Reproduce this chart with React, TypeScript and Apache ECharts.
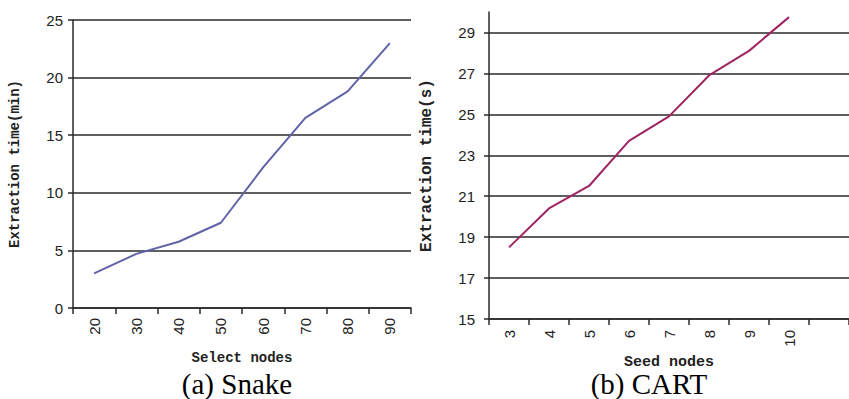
import React, { useEffect, useRef } from "react";
import * as echarts from "echarts";

const snakeCategories = ["20", "30", "40", "50", "60", "70", "80", "90"];
const snakeValues = [3.0, 4.7, 5.75, 7.4, 12.2, 16.5, 18.8, 23.0];
const cartCategories = ["3", "4", "5", "6", "7", "8", "9", "10", ""];
const cartValues = [18.5, 20.4, 21.5, 23.7, 24.9, 26.9, 28.1, 29.75];
const captions = ["(a) Snake", "(b) CART"];

const AX = "#2a2a2a";
const TXT = "#222";

export default function App() {
  const ref = useRef<HTMLDivElement>(null);
  useEffect(() => {
    if (!ref.current) return;
    const chart = echarts.init(ref.current, null, { renderer: "svg" });
    const tickLabel = { color: TXT, fontSize: 15, fontFamily: "Liberation Sans" };
    const nameStyle = {
      color: TXT,
      fontFamily: "Liberation Mono",
      fontWeight: "bold" as const,
    };
    chart.setOption({
      animation: false,
      backgroundColor: "#fff",
      grid: [
        { left: 73, top: 20, right: 438, bottom: 91 },
        { left: 489, top: 12, width: 370, bottom: 80 },
      ],
      xAxis: [
        {
          type: "category",
          gridIndex: 0,
          data: snakeCategories,
          boundaryGap: true,
          axisLine: { lineStyle: { color: AX, width: 1.5 } },
          axisTick: { show: true, length: 6, lineStyle: { color: AX, width: 1.5 } },
          axisLabel: { ...tickLabel, rotate: 90, margin: 10 },
          name: "Select nodes",
          nameLocation: "middle",
          nameGap: 43,
          nameTextStyle: { ...nameStyle, fontSize: 14 },
        },
        {
          type: "category",
          gridIndex: 1,
          data: cartCategories,
          boundaryGap: true,
          axisLine: { lineStyle: { color: AX, width: 1.5 } },
          axisTick: { show: true, length: 6, lineStyle: { color: AX, width: 1.5 } },
          axisLabel: { ...tickLabel, rotate: 90, margin: 11 },
          name: "Seed nodes",
          nameLocation: "middle",
          nameGap: 28,
          nameTextStyle: { ...nameStyle, fontSize: 15, lineHeight: 15 },
        },
      ],
      yAxis: [
        {
          type: "value",
          gridIndex: 0,
          min: 0,
          max: 25,
          interval: 5,
          axisLine: { show: true, lineStyle: { color: AX, width: 1.5 } },
          axisTick: { show: true, length: 5, lineStyle: { color: AX, width: 1.5 } },
          splitLine: { show: true, lineStyle: { color: AX, width: 1.5 } },
          axisLabel: { ...tickLabel, margin: 10 },
          name: "Extraction time(min)",
          nameLocation: "middle",
          nameRotate: 90,
          nameGap: 51,
          nameTextStyle: { ...nameStyle, fontSize: 14 },
        },
        {
          type: "value",
          gridIndex: 1,
          min: 15,
          max: 30,
          interval: 2,
          axisLine: { show: true, lineStyle: { color: AX, width: 1.5 } },
          axisTick: { show: true, length: 5, lineStyle: { color: AX, width: 1.5 } },
          splitLine: { show: true, showMaxLine: false, lineStyle: { color: AX, width: 1.5 } },
          axisLabel: { ...tickLabel, margin: 14, showMaxLabel: false },
          name: "Extraction time(s)",
          nameLocation: "middle",
          nameRotate: 90,
          nameGap: 54,
          nameTextStyle: { ...nameStyle, fontSize: 16 },
        },
      ],
      series: [
        {
          type: "line",
          xAxisIndex: 0,
          yAxisIndex: 0,
          data: snakeValues,
          showSymbol: false,
          symbol: "none",
          lineStyle: { color: "#6262a8", width: 2 },
        },
        {
          type: "line",
          xAxisIndex: 1,
          yAxisIndex: 1,
          data: cartValues,
          showSymbol: false,
          symbol: "none",
          lineStyle: { color: "#9e2462", width: 2 },
        },
      ],
      graphic: [
        {
          type: "text",
          x: 237,
          y: 384,
          style: {
            text: captions[0],
            fill: "#000",
            font: "29px 'Liberation Serif'",
            lineHeight: 29,
            align: "center",
            verticalAlign: "middle",
          },
        },
        {
          type: "text",
          x: 649,
          y: 384,
          style: {
            text: captions[1],
            fill: "#000",
            font: "29px 'Liberation Serif'",
            lineHeight: 29,
            align: "center",
            verticalAlign: "middle",
          },
        },
      ],
    });
    return () => chart.dispose();
  }, []);
  return <div ref={ref} style={{ width: 849, height: 399, position: "absolute", left: 0, top: 0 }} />;
}
